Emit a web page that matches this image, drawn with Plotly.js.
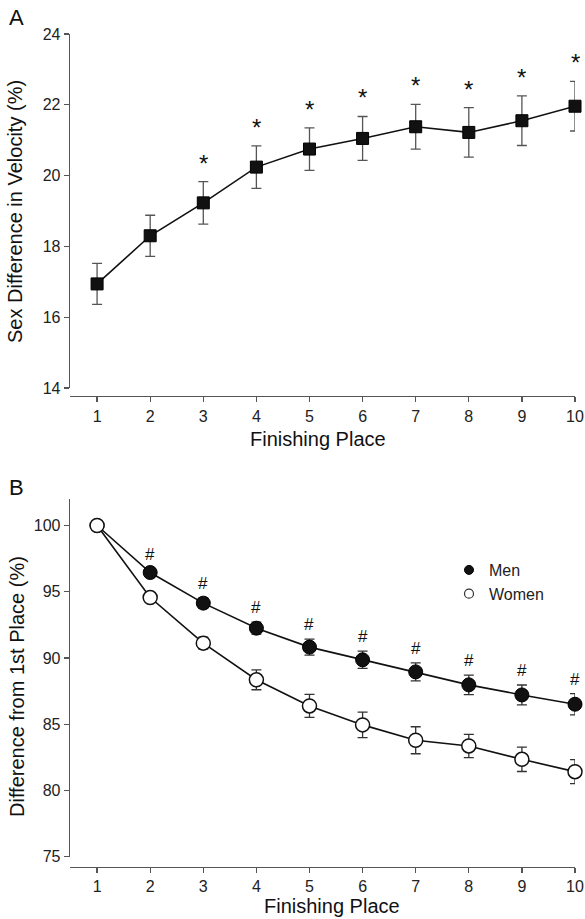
<!DOCTYPE html>
<html>
<head>
<meta charset="utf-8">
<script src="https://cdn.plot.ly/plotly-3.0.1.min.js"></script>
<style>html,body{margin:0;padding:0;background:#fff;}#chart{width:585px;height:919px;}</style>
</head>
<body>
<div id="chart"></div>
<script>
// ---- Data ----
var places = [1, 2, 3, 4, 5, 6, 7, 8, 9, 10];

// Panel A: sex difference in velocity (%)
var sexDiff    = [16.94, 18.30, 19.23, 20.24, 20.75, 21.05, 21.38, 21.22, 21.55, 21.96];
var sexDiffErr = [0.58, 0.58, 0.60, 0.60, 0.60, 0.62, 0.63, 0.70, 0.70, 0.70];
var sigA       = [false, false, true, true, true, true, true, true, true, true];

// Panel B: difference from 1st place (%)
var men      = [100, 96.45, 94.14, 92.25, 90.82, 89.86, 88.95, 87.97, 87.21, 86.51];
var menErr   = [0, 0.30, 0.40, 0.45, 0.60, 0.65, 0.68, 0.73, 0.75, 0.80];
var women    = [100, 94.56, 91.12, 88.35, 86.38, 84.95, 83.79, 83.36, 82.35, 81.42];
var womenErr = [0, 0.30, 0.45, 0.75, 0.87, 0.96, 1.02, 0.88, 0.92, 0.90];
var sigB     = [false, true, true, true, true, true, true, true, true, true];

var ticksA = [14, 16, 18, 20, 22, 24];
var ticksB = [75, 80, 85, 90, 95, 100];

var FONT = 'Liberation Sans, Arial, Helvetica, sans-serif';
var W = 585, H = 919;
function px(x) { return x / W; }
function py(y) { return 1 - y / H; }

var traces = [
  {
    x: places, y: sexDiff, xaxis: 'x', yaxis: 'y',
    type: 'scatter', mode: 'lines+markers', showlegend: false, cliponaxis: false,
    line: {color: '#111', width: 1.6},
    marker: {symbol: 'square', size: 12, color: '#111', line: {color: '#000', width: 1}},
    error_y: {type: 'data', array: sexDiffErr, visible: true, color: '#555', thickness: 1.3, width: 5}
  },
  {
    x: places, y: men, xaxis: 'x2', yaxis: 'y2',
    type: 'scatter', mode: 'lines+markers', showlegend: false, cliponaxis: false,
    line: {color: '#111', width: 1.6},
    marker: {symbol: 'circle', size: 14, color: '#111', line: {color: '#000', width: 1}},
    error_y: {type: 'data', array: menErr, visible: true, color: '#333', thickness: 1.3, width: 5}
  },
  {
    x: places, y: women, xaxis: 'x2', yaxis: 'y2',
    type: 'scatter', mode: 'lines+markers', showlegend: false, cliponaxis: false,
    line: {color: '#111', width: 1.6},
    marker: {symbol: 'circle', size: 14, color: '#fff', line: {color: '#111', width: 1.5}},
    error_y: {type: 'data', array: womenErr, visible: true, color: '#333', thickness: 1.3, width: 5}
  },
  // legend entries
  {
    x: [null], y: [null], xaxis: 'x2', yaxis: 'y2', name: 'Men',
    type: 'scatter', mode: 'markers', showlegend: true,
    marker: {symbol: 'circle', size: 9, color: '#111', line: {color: '#000', width: 1}}
  },
  {
    x: [null], y: [null], xaxis: 'x2', yaxis: 'y2', name: 'Women',
    type: 'scatter', mode: 'markers', showlegend: true,
    marker: {symbol: 'circle', size: 9, color: '#fff', line: {color: '#333', width: 1.2}}
  }
];

var annotations = [];
places.forEach(function (p, i) {
  if (sigA[i]) {
    annotations.push({
      xref: 'x', yref: 'y', x: p, y: sexDiff[i] + sexDiffErr[i],
      text: '*', showarrow: false, yanchor: 'bottom', yshift: 3,
      font: {family: FONT, size: 24, color: '#111'}
    });
  }
  if (sigB[i]) {
    annotations.push({
      xref: 'x2', yref: 'y2', x: p, y: men[i] + menErr[i],
      text: '#', showarrow: false, yanchor: 'bottom', yshift: 3,
      font: {family: FONT, size: 17, color: '#111'}
    });
  }
});

var titleFont = {family: FONT, size: 20, color: '#111'};
annotations.push(
  {xref: 'paper', yref: 'paper', x: px(7), y: py(17), xanchor: 'left', yanchor: 'middle',
   text: 'A', showarrow: false, font: {family: FONT, size: 22, color: '#111'}},
  {xref: 'paper', yref: 'paper', x: px(7), y: py(488), xanchor: 'left', yanchor: 'middle',
   text: 'B', showarrow: false, font: {family: FONT, size: 22, color: '#111'}},
  {xref: 'paper', yref: 'paper', x: px(15), y: py(212), xanchor: 'center', yanchor: 'middle',
   textangle: -90, text: 'Sex Difference in Velocity (%)', showarrow: false, font: titleFont},
  {xref: 'paper', yref: 'paper', x: px(318), y: py(439), xanchor: 'center', yanchor: 'middle',
   text: 'Finishing Place', showarrow: false, font: titleFont},
  {xref: 'paper', yref: 'paper', x: px(17), y: py(687), xanchor: 'center', yanchor: 'middle',
   textangle: -90, text: 'Difference from 1st Place (%)', showarrow: false, font: titleFont},
  {xref: 'paper', yref: 'paper', x: px(332), y: py(906), xanchor: 'center', yanchor: 'middle',
   text: 'Finishing Place', showarrow: false, font: titleFont}
);

var axCommon = {
  showgrid: false, zeroline: false, showline: true, linecolor: '#555', linewidth: 1.3,
  ticks: 'outside', ticklen: 5, tickwidth: 1.3, tickcolor: '#555',
  tickfont: {family: FONT, size: 16, color: '#222'}
};

var layout = {
  width: W, height: H,
  margin: {l: 0, r: 0, t: 0, b: 0},
  paper_bgcolor: '#fff', plot_bgcolor: 'rgba(0,0,0,0)',
  font: {family: FONT, color: '#111'},
  xaxis: Object.assign({}, axCommon, {
    domain: [px(70), px(575)], range: [0.49, 10], tickvals: places,
    anchor: 'free', position: py(396)
  }),
  yaxis: Object.assign({}, axCommon, {
    domain: [py(388), py(34)], range: [14, 24], tickvals: ticksA, anchor: 'x'
  }),
  xaxis2: Object.assign({}, axCommon, {
    domain: [px(70), px(575)], range: [0.49, 10], tickvals: places,
    anchor: 'free', position: py(866.7)
  }),
  yaxis2: Object.assign({}, axCommon, {
    domain: [py(856.7), py(499)], range: [75, 102], tickvals: ticksB, anchor: 'x2'
  }),
  showlegend: true,
  legend: {
    x: px(449), y: py(553), xanchor: 'left', yanchor: 'top',
    bgcolor: 'rgba(0,0,0,0)', borderwidth: 0,
    font: {family: FONT, size: 16, color: '#222'},
    tracegroupgap: 0
  },
  annotations: annotations
};

Plotly.newPlot('chart', traces, layout, {staticPlot: true, displayModeBar: false});
</script>
</body>
</html>
